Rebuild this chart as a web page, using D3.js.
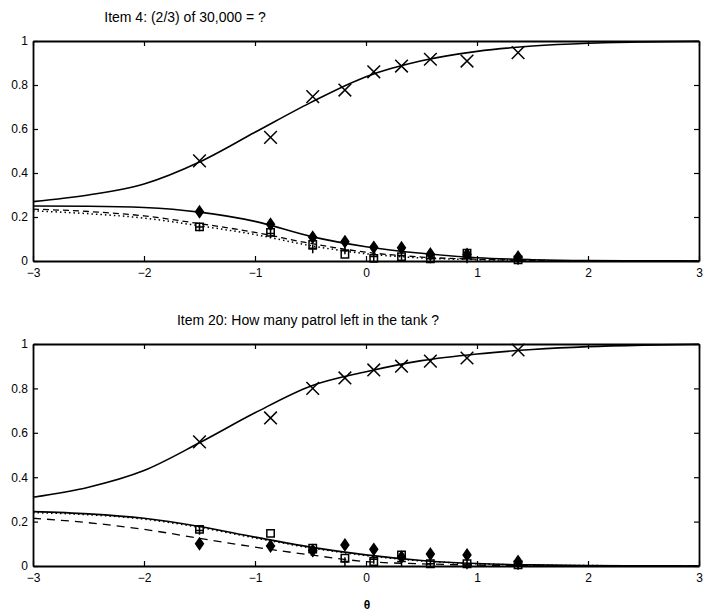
<!DOCTYPE html>
<html>
<head>
<meta charset="utf-8">
<script src="https://cdn.jsdelivr.net/npm/d3@7"></script>
<style>
  body { margin: 0; background: #fff; }
  svg { display: block; font-family: "Liberation Sans", Arial, sans-serif; }
</style>
</head>
<body>
<div id="chart"></div>
<script>
// group ability means (x positions of observed points)
var thetaObs = [-1.5, -0.86, -0.48, -0.19, 0.07, 0.32, 0.58, 0.91, 1.37];

// item 4: observed proportions
var item4Correct = [0.455, 0.562, 0.747, 0.777, 0.86, 0.886, 0.917, 0.909, 0.947];
var item4Diamond = [0.224, 0.167, 0.108, 0.088, 0.062, 0.06, 0.032, 0.03, 0.018];
var item4Square  = [0.155, 0.13, 0.075, 0.03, 0.012, 0.02, 0.01, 0.035, 0.005];
var item4Plus    = [0.155, 0.125, 0.055, 0.05, 0.02, 0.025, 0.01, 0.01, 0.003];

// item 20: observed proportions
var item20Correct = [0.559, 0.667, 0.80, 0.847, 0.883, 0.90, 0.923, 0.937, 0.973];
var item20Diamond = [0.10, 0.09, 0.07, 0.095, 0.075, 0.04, 0.054, 0.05, 0.02];
var item20Square  = [0.165, 0.147, 0.08, 0.035, 0.02, 0.05, 0.01, 0.01, 0.005];
var item20Plus    = [0.16, 0.09, 0.06, 0.02, 0.03, 0.02, 0.01, 0.005, 0.003];

// fitted curves, read at these theta values
var thetaGrid = [-3, -2.5, -2, -1.5, -1, -0.5, 0, 0.5, 1, 1.5, 2, 2.5, 3];
var item4CurveCorrect = [0.27, 0.30, 0.35, 0.45, 0.585, 0.72, 0.838, 0.91, 0.953, 0.977, 0.99, 0.996, 0.999];
var item4CurveSolid   = [0.25, 0.249, 0.243, 0.222, 0.18, 0.112, 0.065, 0.035, 0.015, 0.006, 0.002, 0.001, 0];
var item4CurveDashed  = [0.236, 0.225, 0.205, 0.17, 0.13, 0.08, 0.04, 0.018, 0.008, 0.003, 0.001, 0, 0];
var item4CurveDotted  = [0.228, 0.215, 0.195, 0.16, 0.12, 0.07, 0.033, 0.014, 0.006, 0.002, 0.001, 0, 0];

var item20CurveCorrect = [0.31, 0.355, 0.43, 0.555, 0.69, 0.81, 0.875, 0.925, 0.955, 0.975, 0.988, 0.995, 0.999];
var item20CurveSolid   = [0.245, 0.235, 0.215, 0.178, 0.13, 0.085, 0.05, 0.025, 0.011, 0.005, 0.002, 0.001, 0];
var item20CurveDotted  = [0.24, 0.231, 0.211, 0.174, 0.126, 0.082, 0.047, 0.023, 0.01, 0.004, 0.002, 0.001, 0];
var item20CurveDashed  = [0.215, 0.195, 0.165, 0.125, 0.085, 0.05, 0.02, 0.01, 0.004, 0.001, 0, 0, 0];

var xTicks = [-3, -2, -1, 0, 1, 2, 3];
var yTicks = [0, 0.2, 0.4, 0.6, 0.8, 1];

var W = 707, H = 614;
var svg = d3.select("#chart").append("svg").attr("width", W).attr("height", H);

// marker shapes
var symX = { draw: function(c, s){ var r = Math.sqrt(s)/2; c.moveTo(-r,-r); c.lineTo(r,r); c.moveTo(-r,r); c.lineTo(r,-r); } };
var symPlus = { draw: function(c, s){ var r = Math.sqrt(s)/2; c.moveTo(-r,0); c.lineTo(r,0); c.moveTo(0,-r); c.lineTo(0,r); } };
var symSquare = { draw: function(c, s){ var r = Math.sqrt(s)/2; c.moveTo(-r,-r); c.lineTo(r,-r); c.lineTo(r,r); c.lineTo(-r,r); c.closePath(); } };
var symDiamond = { draw: function(c, s){ var r = Math.sqrt(s)/2; c.moveTo(0,-r*1.3); c.lineTo(r*0.9,0); c.lineTo(0,r*1.3); c.lineTo(-r*0.9,0); c.closePath(); } };

var x = d3.scaleLinear().domain([-3, 3]).range([33, 699]);

function panel(cfg){
  var y = d3.scaleLinear().domain([0, 1]).range([cfg.bottom, cfg.top]);
  var g = svg.append("g");

  g.append("text")
    .attr("x", cfg.titleX).attr("y", cfg.top - 19)
    .attr("text-anchor", "middle")
    .style("font-size", "14px")
    .text(cfg.title);

  var line = d3.line()
    .x(function(d){ return x(d[0]); })
    .y(function(d){ return y(d[1]); })
    .curve(d3.curveMonotoneX);

  cfg.curves.forEach(function(c){
    g.append("path")
      .datum(thetaGrid.map(function(t, i){ return [t, c.values[i]]; }))
      .attr("d", line)
      .attr("fill", "none")
      .attr("stroke", "#000")
      .attr("stroke-width", c.width || 1.6)
      .attr("stroke-dasharray", c.dash || null);
  });

  cfg.points.forEach(function(p){
    g.selectAll(null)
      .data(thetaObs.map(function(t, i){ return [t, p.values[i]]; }))
      .enter().append("path")
      .attr("transform", function(d){ return "translate(" + x(d[0]) + "," + y(d[1]) + ")"; })
      .attr("d", d3.symbol().type(p.type).size(p.size))
      .attr("fill", p.fill ? "#000" : "none")
      .attr("stroke", "#000")
      .attr("stroke-width", 1.5);
  });

  // axes box with inward ticks
  var ax = [
    g.append("g").attr("transform", "translate(0," + cfg.bottom + ")")
      .call(d3.axisBottom(x).tickValues(xTicks).tickSizeInner(-5).tickSizeOuter(0).tickPadding(7).tickFormat(d3.format("d"))),
    g.append("g").attr("transform", "translate(0," + cfg.top + ")")
      .call(d3.axisTop(x).tickValues(xTicks).tickSizeInner(-5).tickSizeOuter(0).tickFormat("")),
    g.append("g").attr("transform", "translate(" + x(-3) + ",0)")
      .call(d3.axisLeft(y).tickValues(yTicks).tickSizeInner(-5).tickSizeOuter(0).tickPadding(5).tickFormat(function(d){ return d3.format("")(+d.toFixed(1)); })),
    g.append("g").attr("transform", "translate(" + x(3) + ",0)")
      .call(d3.axisRight(y).tickValues(yTicks).tickSizeInner(-5).tickSizeOuter(0).tickFormat(""))
  ];
  ax.forEach(function(a){
    a.select(".domain").attr("stroke", "#000").attr("stroke-width", 1.8);
    a.selectAll(".tick line").attr("stroke", "#000").attr("stroke-width", 1.2);
    a.selectAll("text").style("font-size", "12px").style("font-family", "'Liberation Sans', Arial, sans-serif").attr("fill", "#000");
  });
}

panel({
  title: "Item 4: (2/3) of 30,000 = ?", titleX: 185, top: 41, bottom: 261,
  curves: [
    { values: item4CurveCorrect },
    { values: item4CurveSolid },
    { values: item4CurveDashed, dash: "6,4", width: 1.3 },
    { values: item4CurveDotted, dash: "1.5,3", width: 1.5 }
  ],
  points: [
    { values: item4Correct, type: symX, size: 160 },
    { values: item4Square, type: symSquare, size: 55 },
    { values: item4Plus, type: symPlus, size: 75 },
    { values: item4Diamond, type: symDiamond, size: 75, fill: true }
  ]
});

panel({
  title: "Item 20: How many patrol left in the tank ?", titleX: 308, top: 344, bottom: 566,
  curves: [
    { values: item20CurveCorrect },
    { values: item20CurveSolid },
    { values: item20CurveDotted, dash: "1.5,3", width: 1.5 },
    { values: item20CurveDashed, dash: "8,6", width: 1.3 }
  ],
  points: [
    { values: item20Correct, type: symX, size: 160 },
    { values: item20Square, type: symSquare, size: 55 },
    { values: item20Plus, type: symPlus, size: 75 },
    { values: item20Diamond, type: symDiamond, size: 75, fill: true }
  ]
});

svg.append("text")
  .attr("x", 367).attr("y", 609)
  .attr("text-anchor", "middle")
  .style("font-size", "12px")
  .style("font-weight", "bold")
  .text("θ");
</script>
</body>
</html>
